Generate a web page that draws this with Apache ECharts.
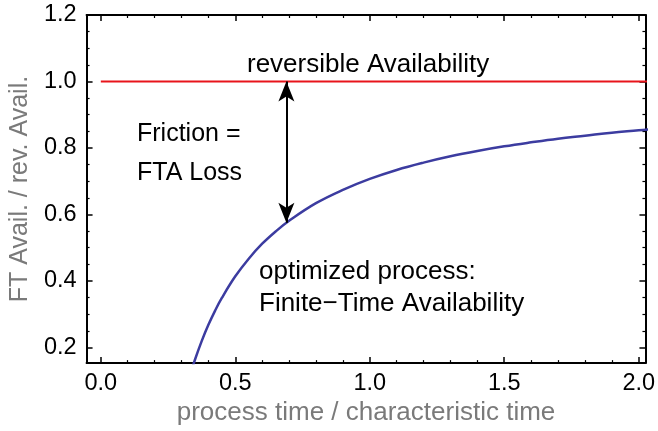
<!DOCTYPE html>
<html>
<head>
<meta charset="utf-8">
<script src="https://cdn.jsdelivr.net/npm/echarts@6/dist/echarts.min.js"></script>
<style>
html,body{margin:0;padding:0;background:#fff;}
#chart{width:658px;height:431px;}
</style>
</head>
<body>
<div id="chart"></div>
<script>
// ---- data ----
const processTime = [0.33, 0.35, 0.375, 0.4, 0.425, 0.45, 0.5, 0.55, 0.6, 0.65, 0.7, 0.8, 0.9, 1.0, 1.1, 1.2, 1.3, 1.4, 1.5, 1.6, 1.7, 1.8, 1.9, 2.0, 2.05];
const ftAvailability = [0.112, 0.163, 0.219, 0.268, 0.311, 0.349, 0.414, 0.467, 0.512, 0.549, 0.581, 0.634, 0.674, 0.707, 0.734, 0.756, 0.775, 0.791, 0.805, 0.817, 0.828, 0.837, 0.846, 0.853, 0.857];
const reversibleX = [0.0, 2.05];
const reversibleY = [1.0, 1.0];
const arrowX = [0.69, 0.69];
const arrowY = [1.0, 0.575];
const xRange = [-0.053, 2.025];
const yRange = [0.153, 1.2];
const xTickStep = 0.5;
const yTickStep = 0.2;
const labels = {
  xName: 'process time / characteristic time',
  yName: 'FT Avail. / rev. Avail.',
  rev: 'reversible Availability',
  friction: ['Friction =', 'FTA Loss'],
  opt: ['optimized process:', 'Finite\u2212Time Availability']
};

// ---- chart ----
const FONT = 'Liberation Sans, Arial, Helvetica, sans-serif';
const chart = echarts.init(document.getElementById('chart'), null, {renderer: 'canvas'});

function fmt(step) {
  return function (v) {
    const k = v / step;
    return Math.abs(k - Math.round(k)) < 1e-6 ? v.toFixed(1) : '';
  };
}
function xAx(pos, showLabel) {
  return {
    type: 'value', position: pos, min: xRange[0], max: xRange[1], splitNumber: 5,
    axisLine: {show: true, onZero: false, lineStyle: {color: '#000', width: 2}},
    axisTick: {show: true, inside: true, length: 6, lineStyle: {color: '#000', width: 1.5}},
    minorTick: {show: true, splitNumber: 5, length: 3, lineStyle: {color: '#000', width: 1.2}},
    splitLine: {show: false},
    axisLabel: {show: showLabel, interval: 0, margin: 8, color: '#000', fontSize: 23.5, fontFamily: FONT, formatter: fmt(xTickStep)},
    name: showLabel ? labels.xName : '', nameLocation: 'middle', nameGap: 30,
    nameTextStyle: {color: '#7a7a7a', fontSize: 26, fontFamily: FONT}
  };
}
function yAx(pos, showLabel) {
  return {
    type: 'value', position: pos, min: yRange[0], max: yRange[1], splitNumber: 5,
    axisLine: {show: true, onZero: false, lineStyle: {color: '#000', width: 2}},
    axisTick: {show: true, inside: true, length: 6, lineStyle: {color: '#000', width: 1.5}},
    minorTick: {show: true, splitNumber: 4, length: 3, lineStyle: {color: '#000', width: 1.2}},
    splitLine: {show: false},
    axisLabel: {show: showLabel, interval: 0, margin: 10, color: '#000', fontSize: 23.5, fontFamily: FONT, formatter: fmt(yTickStep)},
    name: showLabel ? labels.yName : '', nameLocation: 'middle', nameGap: 48, nameRotate: 90,
    nameTextStyle: {color: '#7a7a7a', fontSize: 25, fontFamily: FONT}
  };
}

const curve = processTime.map((x, i) => [x, ftAvailability[i]]);
const revLine = reversibleX.map((x, i) => [x, reversibleY[i]]);

chart.setOption({
  animation: false,
  backgroundColor: '#fff',
  grid: {left: 82, right: 5, top: 15, bottom: 63, containLabel: false},
  xAxis: [xAx('bottom', true), xAx('top', false)],
  yAxis: [yAx('left', true), yAx('right', false)],
  series: [
    {
      type: 'line', data: revLine, showSymbol: false, symbol: 'none', silent: true,
      lineStyle: {color: '#e8141b', width: 2}, clip: true, z: 2
    },
    {
      type: 'line', data: curve, smooth: 0.4, showSymbol: false, symbol: 'none', silent: true,
      lineStyle: {color: '#3c3ca0', width: 2.5}, clip: true, z: 3,
      markLine: {
        silent: true, symbol: ['arrow', 'arrow'], symbolSize: [12, 20],
        label: {show: false},
        lineStyle: {color: '#000', width: 2, type: 'solid'},
        data: [[{coord: [arrowX[0], arrowY[0]]}, {coord: [arrowX[1], arrowY[1]]}]]
      }
    }
  ],
  graphic: [
    {type: 'text', left: 247, top: 52, style: {text: labels.rev, fill: '#000', font: '26px ' + FONT}},
    {type: 'text', left: 137, top: 122, style: {text: labels.friction[0], fill: '#000', font: '25px ' + FONT}},
    {type: 'text', left: 137, top: 161, style: {text: labels.friction[1], fill: '#000', font: '25px ' + FONT}},
    {type: 'text', left: 259, top: 259, style: {text: labels.opt[0], fill: '#000', font: '26px ' + FONT}},
    {type: 'text', left: 259, top: 291, style: {text: labels.opt[1], fill: '#000', font: '26px ' + FONT}}
  ]
});
</script>
</body>
</html>
